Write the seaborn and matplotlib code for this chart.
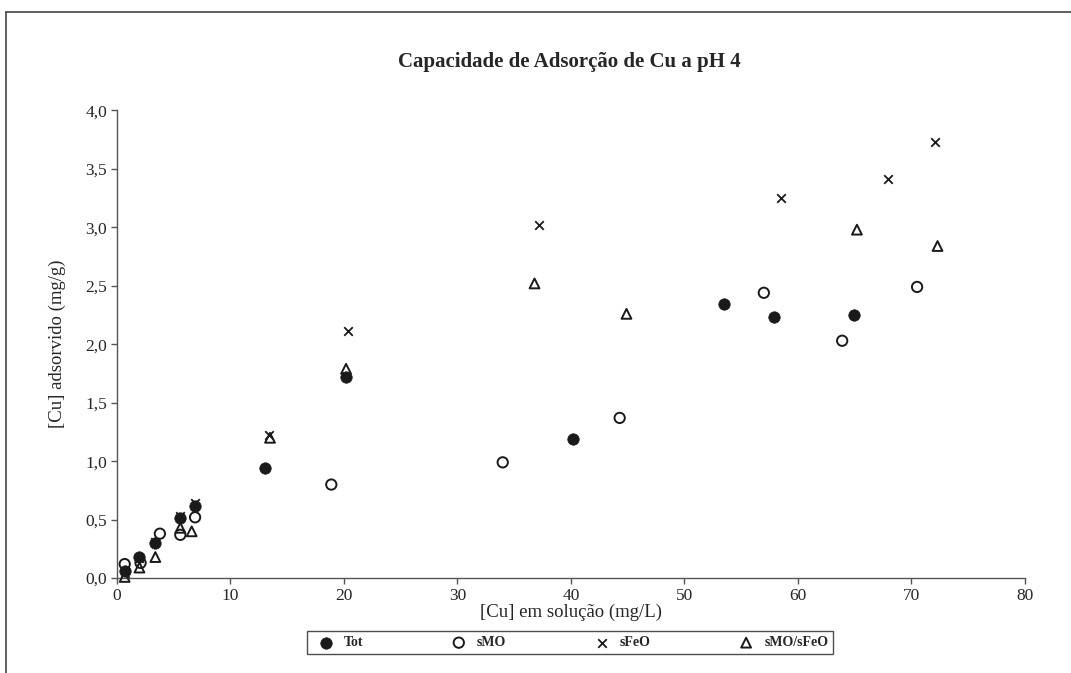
import pandas as pd
import seaborn as sns
import matplotlib.pyplot as plt
from matplotlib.lines import Line2D
from matplotlib.ticker import FuncFormatter

# [Cu] em solução (mg/L) and [Cu] adsorvido (mg/g)
tot_x = [0.7, 2.0, 3.4, 5.6, 6.9, 13.1, 20.2, 40.2, 53.5, 57.9, 64.9]
tot_y = [0.06, 0.18, 0.30, 0.51, 0.62, 0.94, 1.72, 1.19, 2.34, 2.23, 2.25]

smo_x = [0.7, 2.1, 3.8, 5.6, 6.9, 18.9, 34.0, 44.3, 57.0, 63.9, 70.5]
smo_y = [0.12, 0.13, 0.38, 0.37, 0.52, 0.80, 0.99, 1.37, 2.44, 2.03, 2.49]

sfeo_x = [0.7, 2.0, 3.4, 5.6, 6.9, 13.4, 20.4, 37.2, 58.5, 67.9, 72.1]
sfeo_y = [0.04, 0.17, 0.31, 0.53, 0.64, 1.22, 2.11, 3.02, 3.25, 3.41, 3.73]

smofeo_x = [0.7, 2.0, 3.4, 5.6, 6.6, 13.5, 20.2, 36.8, 44.9, 65.2, 72.3]
smofeo_y = [0.01, 0.09, 0.18, 0.43, 0.40, 1.20, 1.79, 2.52, 2.26, 2.98, 2.84]

series_names = ["Tot", "sMO", "sFeO", "sMO/sFeO"]

sns.set_style("white")
plt.rcParams["font.family"] = ["Liberation Serif", "DejaVu Serif"]

fig = plt.figure(figsize=(10.71, 6.73), dpi=100)
ax = fig.add_axes([0.109, 0.141, 0.848, 0.695])

df_tot = pd.DataFrame({"x": tot_x, "y": tot_y})
df_smo = pd.DataFrame({"x": smo_x, "y": smo_y})
df_sfeo = pd.DataFrame({"x": sfeo_x, "y": sfeo_y})
df_mix = pd.DataFrame({"x": smofeo_x, "y": smofeo_y})

ink = "#1a1a1a"
sns.scatterplot(data=df_sfeo, x="x", y="y", ax=ax, marker="x", color=ink,
                s=38, linewidth=1.3, label=series_names[2], zorder=2)
sns.scatterplot(data=df_mix, x="x", y="y", ax=ax, marker="^", facecolor="none",
                edgecolor=ink, s=50, linewidth=1.4, label=series_names[3], zorder=3)
sns.scatterplot(data=df_smo, x="x", y="y", ax=ax, marker="o", facecolor="none",
                edgecolor=ink, s=55, linewidth=1.4, label=series_names[1], zorder=3)
sns.scatterplot(data=df_tot, x="x", y="y", ax=ax, marker="o", color=ink,
                edgecolor=ink, s=68, linewidth=0.5, label=series_names[0], zorder=4)

ax.set_xlim(0, 80)
ax.set_ylim(0, 4.0)
ax.set_xticks(range(0, 81, 10))
ax.set_yticks([i * 0.5 for i in range(9)])
ax.yaxis.set_major_formatter(FuncFormatter(lambda v, p: f"{v:.1f}".replace(".", ",")))

for side in ["top", "right"]:
    ax.spines[side].set_visible(False)
for side in ["left", "bottom"]:
    ax.spines[side].set_color("#555555")
    ax.spines[side].set_linewidth(1.0)
ax.tick_params(axis="both", direction="out", length=4, width=1.0, color="#555555",
               labelsize=12.5, pad=3, left=True, bottom=True)
for coll in ax.collections:
    coll.set_clip_on(False)

ax.set_xlabel("[Cu] em solução (mg/L)", fontsize=13.5, labelpad=0)
ax.set_ylabel("[Cu] adsorvido (mg/g)", fontsize=13.5, labelpad=14)
fig.text(0.532, 0.908, "Capacidade de Adsorção de Cu a pH 4", ha="center", va="center",
         fontsize=15, fontweight="bold")

handles, labels = ax.get_legend_handles_labels()
order = [labels.index(n) for n in series_names]
leg = ax.legend([handles[i] for i in order], [labels[i] for i in order],
                loc="lower left", bbox_to_anchor=(0.2866, 0.028, 0.4912, 0.03),
                bbox_transform=fig.transFigure, mode="expand",
                ncol=4, frameon=True, fancybox=False, edgecolor="#222222",
                prop={"family": "Liberation Serif", "weight": "bold", "size": 10},
                columnspacing=1.0, handletextpad=0.3, handlelength=2.0,
                borderpad=0.35, borderaxespad=0, markerscale=1.0)
leg.get_frame().set_linewidth(1.0)

# outer frame lines (top and left edge)
fig.add_artist(Line2D([0.0056, 1.0], [0.982, 0.982], transform=fig.transFigure,
                      color="#444444", linewidth=1.2))
fig.add_artist(Line2D([0.0056, 0.0056], [0.0, 0.982], transform=fig.transFigure,
                      color="#444444", linewidth=1.2))

fig.savefig("out.png", dpi=100)
